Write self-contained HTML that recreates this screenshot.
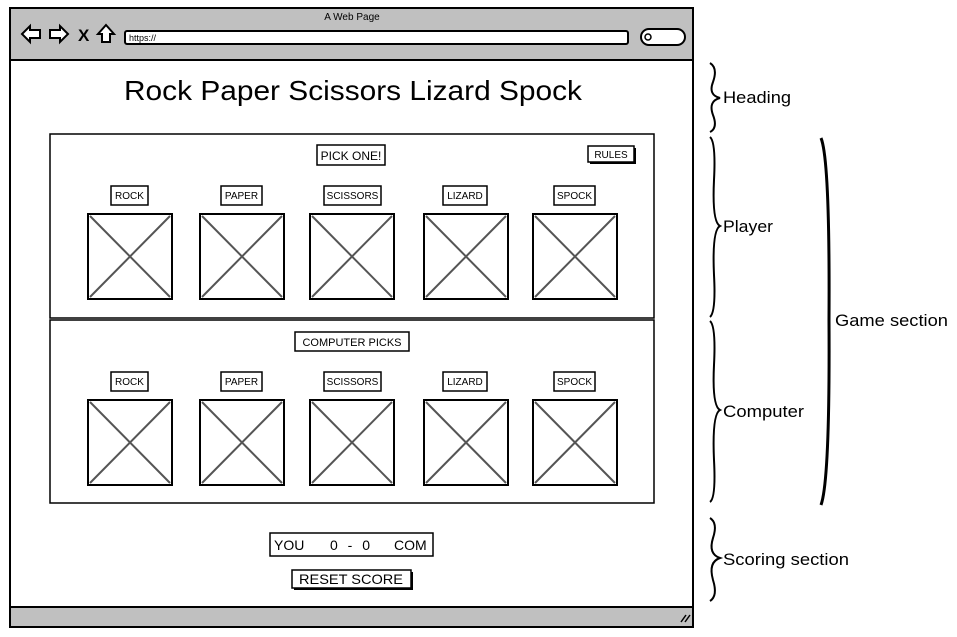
<!DOCTYPE html>
<html><head><meta charset="utf-8"><style>
html,body{margin:0;padding:0;background:#fff;}
svg{display:block;}
text{font-family:"Liberation Sans",sans-serif;fill:#000;}
</style></head><body>
<svg width="957" height="637" viewBox="0 0 957 637" xmlns="http://www.w3.org/2000/svg">
<rect x="10" y="8" width="683" height="619" fill="#fff" stroke="#000" stroke-width="2"/>
<rect x="11" y="9" width="681" height="51" fill="#c0c0c0"/>
<line x1="10" y1="60" x2="693" y2="60" stroke="#000" stroke-width="2"/>
<rect x="11" y="607" width="681" height="19" fill="#c0c0c0"/>
<line x1="10" y1="607" x2="693" y2="607" stroke="#000" stroke-width="2"/>
<text x="352" y="20" font-size="10" text-anchor="middle">A Web Page</text>
<path d="M22 34 L30 26 L30 30 L40 30 L40 38 L30 38 L30 42 Z" fill="#fff" stroke="#000" stroke-width="2"/>
<path d="M68 34 L60 26 L60 30 L50 30 L50 38 L60 38 L60 42 Z" fill="#fff" stroke="#000" stroke-width="2"/>
<text x="78" y="41" font-size="17" font-weight="bold">X</text>
<path d="M106 25 L114 34 L110 34 L110 42 L102 42 L102 34 L98 34 Z" fill="#fff" stroke="#000" stroke-width="2"/>
<rect x="125" y="31" width="503" height="13" rx="2" fill="#fff" stroke="#000" stroke-width="2"/>
<text x="129" y="41" font-size="9">https://</text>
<rect x="641" y="29" width="44" height="16" rx="8" fill="#fff" stroke="#000" stroke-width="2"/>
<circle cx="648" cy="37" r="3" fill="none" stroke="#000" stroke-width="1.5"/>
<path d="M681 622 L686 615 M685 622 L690 615" stroke="#000" stroke-width="1.5"/>
<text x="124" y="100" font-size="28" textLength="458" lengthAdjust="spacingAndGlyphs">Rock Paper Scissors Lizard Spock</text>
<rect x="50" y="134" width="604" height="184" fill="none" stroke="#000" stroke-width="1.5"/>
<rect x="50" y="320" width="604" height="183" fill="none" stroke="#000" stroke-width="1.5"/>
<g font-size="11" text-anchor="middle">
<rect x="317" y="145" width="68" height="20" fill="#fff" stroke="#000" stroke-width="1.5"/>
<text x="351" y="160" font-size="12">PICK ONE!</text>
<rect x="590" y="148" width="46" height="16" fill="#000"/>
<rect x="588" y="146" width="46" height="16" fill="#fff" stroke="#000" stroke-width="1.5"/>
<text x="611" y="158" font-size="10">RULES</text>
<rect x="295" y="332" width="114" height="19" fill="#fff" stroke="#000" stroke-width="1.5"/>
<text x="352" y="346" font-size="11">COMPUTER PICKS</text>
</g>
<g font-size="10" text-anchor="middle" stroke-width="1.5">
<rect x="111" y="186" width="37" height="19" fill="#fff" stroke="#000"/><text x="129.5" y="199">ROCK</text>
<rect x="221" y="186" width="41" height="19" fill="#fff" stroke="#000"/><text x="241.5" y="199">PAPER</text>
<rect x="324" y="186" width="57" height="19" fill="#fff" stroke="#000"/><text x="352.5" y="199">SCISSORS</text>
<rect x="443" y="186" width="44" height="19" fill="#fff" stroke="#000"/><text x="465" y="199">LIZARD</text>
<rect x="554" y="186" width="41" height="19" fill="#fff" stroke="#000"/><text x="574.5" y="199">SPOCK</text>
<rect x="111" y="372" width="37" height="19" fill="#fff" stroke="#000"/><text x="129.5" y="385">ROCK</text>
<rect x="221" y="372" width="41" height="19" fill="#fff" stroke="#000"/><text x="241.5" y="385">PAPER</text>
<rect x="324" y="372" width="57" height="19" fill="#fff" stroke="#000"/><text x="352.5" y="385">SCISSORS</text>
<rect x="443" y="372" width="44" height="19" fill="#fff" stroke="#000"/><text x="465" y="385">LIZARD</text>
<rect x="554" y="372" width="41" height="19" fill="#fff" stroke="#000"/><text x="574.5" y="385">SPOCK</text>
</g>
<g fill="#fff" stroke="#000" stroke-width="2">
<rect x="88" y="214" width="84" height="85"/><rect x="200" y="214" width="84" height="85"/><rect x="310" y="214" width="84" height="85"/><rect x="424" y="214" width="84" height="85"/><rect x="533" y="214" width="84" height="85"/>
<rect x="88" y="400" width="84" height="85"/><rect x="200" y="400" width="84" height="85"/><rect x="310" y="400" width="84" height="85"/><rect x="424" y="400" width="84" height="85"/><rect x="533" y="400" width="84" height="85"/>
</g>
<g stroke="#555" stroke-width="2">
<path d="M90 216 L170 297 M170 216 L90 297"/>
<path d="M202 216 L282 297 M282 216 L202 297"/>
<path d="M312 216 L392 297 M392 216 L312 297"/>
<path d="M426 216 L506 297 M506 216 L426 297"/>
<path d="M535 216 L615 297 M615 216 L535 297"/>
<path d="M90 402 L170 483 M170 402 L90 483"/>
<path d="M202 402 L282 483 M282 402 L202 483"/>
<path d="M312 402 L392 483 M392 402 L312 483"/>
<path d="M426 402 L506 483 M506 402 L426 483"/>
<path d="M535 402 L615 483 M615 402 L535 483"/>
</g>
<rect x="270" y="533" width="163" height="23" fill="#fff" stroke="#000" stroke-width="1.5"/>
<text x="274" y="550" font-size="14">YOU</text>
<text x="330" y="550" font-size="14" textLength="40" lengthAdjust="spacing">0 - 0</text>
<text x="394" y="550" font-size="14">COM</text>
<rect x="294" y="572" width="119" height="18" fill="#000"/>
<rect x="292" y="570" width="119" height="18" fill="#fff" stroke="#000" stroke-width="1.5"/>
<text x="299" y="584" font-size="14" textLength="104" lengthAdjust="spacingAndGlyphs">RESET SCORE</text>
<g fill="none" stroke="#000" stroke-width="2">
<path d="M710 63 Q718 68 713 82 Q708 95 720 98 Q708 101 713 115 Q718 128 710 132"/>
<path d="M710 137 Q716 142 714 180 Q712 222 720 226 Q712 230 714 275 Q716 312 710 317"/>
<path d="M710 321 Q716 326 714 365 Q712 406 720 410 Q712 414 714 460 Q716 498 710 502"/>
<path d="M710 518 Q718 523 713 538 Q708 554 720 558 Q708 562 713 580 Q718 596 710 601"/>
<path d="M821 138 Q830 160 829 320 Q830 480 821 505" stroke-width="3"/>
</g>
<g font-size="17">
<text x="723" y="103" textLength="68" lengthAdjust="spacingAndGlyphs">Heading</text>
<text x="723" y="232" textLength="50" lengthAdjust="spacingAndGlyphs">Player</text>
<text x="723" y="417" textLength="81" lengthAdjust="spacingAndGlyphs">Computer</text>
<text x="835" y="326" textLength="113" lengthAdjust="spacingAndGlyphs">Game section</text>
<text x="723" y="565" textLength="126" lengthAdjust="spacingAndGlyphs">Scoring section</text>
</g>
</svg>
</body></html>
